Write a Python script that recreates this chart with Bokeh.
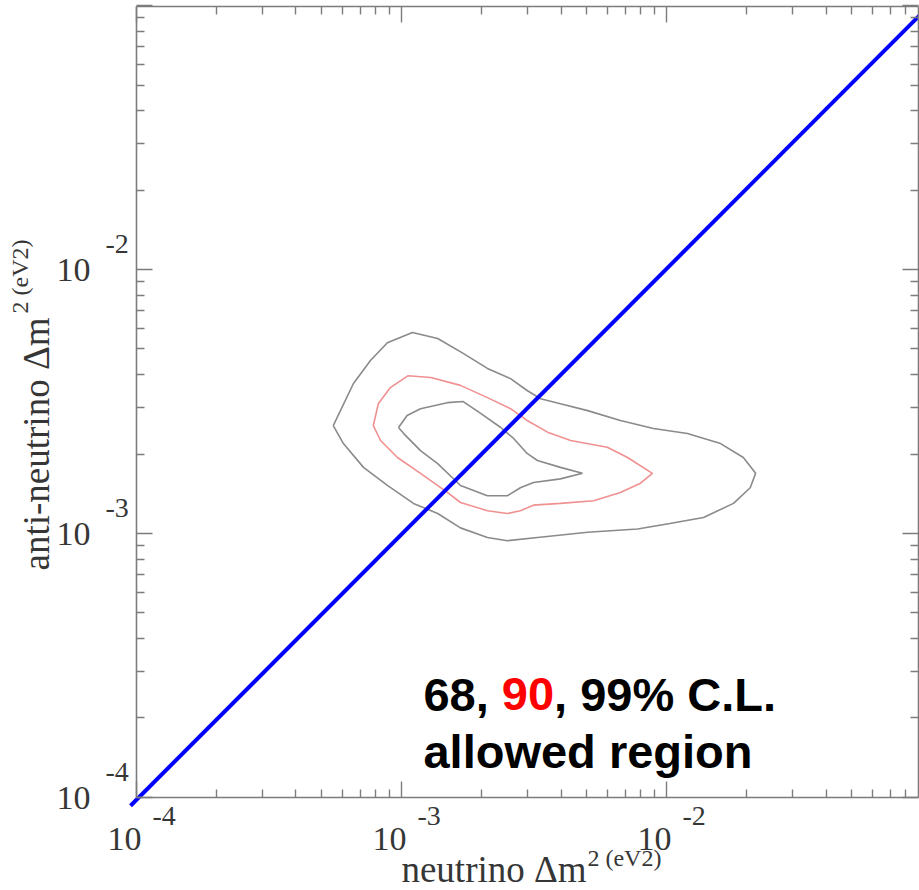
from bokeh.plotting import figure
from bokeh.models import Range1d, LogAxis, FixedTicker, Label
from bokeh.embed import file_html
from bokeh.resources import INLINE

# ---- data ----
# 99% C.L. contour (outer, grey)
c99_nu = [5.53e-4, 6.59e-4, 7.64e-4, 8.85e-4, 1.10e-3, 1.37e-3, 1.71e-3, 2.11e-3, 2.58e-3,
          2.98e-3, 3.35e-3, 3.98e-3, 5.04e-3, 6.70e-3, 8.93e-3, 1.20e-2, 1.60e-2, 1.95e-2,
          2.17e-2, 2.07e-2, 1.79e-2, 1.38e-2, 1.03e-2, 7.78e-3, 5.04e-3, 3.26e-3, 2.51e-3,
          2.11e-3, 1.67e-3, 1.37e-3, 1.11e-3, 8.85e-4, 7.19e-4, 6.04e-4, 5.53e-4]
c99_anu = [2.56e-3, 3.70e-3, 4.52e-3, 5.28e-3, 5.77e-3, 5.48e-3, 4.81e-3, 4.22e-3, 3.86e-3,
           3.48e-3, 3.24e-3, 3.10e-3, 2.92e-3, 2.68e-3, 2.50e-3, 2.39e-3, 2.19e-3, 1.94e-3,
           1.69e-3, 1.49e-3, 1.30e-3, 1.15e-3, 1.09e-3, 1.04e-3, 1.01e-3, 9.66e-4, 9.39e-4,
           9.66e-4, 1.05e-3, 1.19e-3, 1.30e-3, 1.52e-3, 1.78e-3, 2.19e-3, 2.56e-3]
# 90% C.L. contour (middle, red)
c90_nu = [7.83e-4, 8.18e-4, 9.08e-4, 1.06e-3, 1.29e-3, 1.67e-3, 2.11e-3, 2.58e-3, 2.98e-3,
          3.56e-3, 4.35e-3, 5.98e-3, 7.13e-3, 8.85e-3, 7.98e-3, 6.70e-3, 5.31e-3, 3.98e-3,
          3.15e-3, 2.81e-3, 2.51e-3, 2.11e-3, 1.67e-3, 1.49e-3, 1.18e-3, 9.66e-4, 8.34e-4, 7.83e-4]
c90_anu = [2.56e-3, 3.10e-3, 3.57e-3, 3.96e-3, 3.90e-3, 3.64e-3, 3.27e-3, 2.97e-3, 2.68e-3,
           2.42e-3, 2.25e-3, 2.12e-3, 1.94e-3, 1.69e-3, 1.55e-3, 1.43e-3, 1.33e-3, 1.30e-3,
           1.28e-3, 1.22e-3, 1.19e-3, 1.22e-3, 1.31e-3, 1.43e-3, 1.69e-3, 1.94e-3, 2.25e-3, 2.56e-3]
# 68% C.L. contour (inner, grey)
c68_nu = [9.75e-4, 1.05e-3, 1.18e-3, 1.49e-3, 1.71e-3, 1.99e-3, 2.37e-3, 2.65e-3, 2.98e-3,
          3.26e-3, 3.98e-3, 4.82e-3, 3.98e-3, 3.15e-3, 2.81e-3, 2.51e-3, 2.11e-3, 1.67e-3,
          1.37e-3, 1.18e-3, 1.02e-3, 9.75e-4]
c68_anu = [2.52e-3, 2.80e-3, 2.97e-3, 3.13e-3, 3.16e-3, 2.85e-3, 2.52e-3, 2.29e-3, 2.01e-3,
           1.89e-3, 1.78e-3, 1.69e-3, 1.61e-3, 1.56e-3, 1.49e-3, 1.39e-3, 1.39e-3, 1.52e-3,
           1.84e-3, 2.06e-3, 2.39e-3, 2.52e-3]
# diagonal (neutrino = anti-neutrino)
diag_nu = [9.5e-5, 9.0e-2]
diag_anu = [9.3e-5, 9.16e-2]

# axis box limits and ticks / labels
x_lo, x_hi = 1e-4, 0.0893
y_lo, y_hi = 1e-4, 0.0991
major_ticks = [1e-4, 1e-3, 1e-2, 1e-1]
labelled_ticks = [1e-4, 1e-3, 1e-2]
tick_exponents = ["-4", "-3", "-2"]
minor_ticks = [m * d for d in [1e-4, 1e-3, 1e-2] for m in range(2, 10)]

x_title = "neutrino \u0394m"
y_title = "anti-neutrino \u0394m"
title_sup = "2 (eV2)"
note_parts = ["68, ", "90", ", 99% C.L."]
note_colors = ["black", "red", "black"]
note_line2 = "allowed region"

AX = "#7c7c7c"
TXT = "#363636"
SERIF = "Liberation Serif"
SANS = "Liberation Sans"
BL = 0.34  # baseline correction (em) for text_baseline="alphabetic"

# the frame spans the whole canvas so that labels outside the axis box are not clipped
p = figure(width=919, height=890, x_axis_type="log", y_axis_type="log",
           x_axis_location=None, y_axis_location=None,
           x_range=Range1d(3.07e-5, 0.0901), y_range=Range1d(4.44e-5, 0.1045),
           output_backend="svg", toolbar_location=None,
           min_border_left=0, min_border_right=0, min_border_top=0, min_border_bottom=0)
p.outline_line_color = None
p.grid.visible = False
p.background_fill_color = "white"
p.border_fill_color = "white"

p.add_layout(LogAxis(fixed_location=y_lo, bounds=(x_lo, x_hi)), "below")
p.add_layout(LogAxis(fixed_location=y_hi, bounds=(x_lo, x_hi)), "above")
p.add_layout(LogAxis(fixed_location=x_lo, bounds=(y_lo, y_hi)), "left")
p.add_layout(LogAxis(fixed_location=x_hi, bounds=(y_lo, y_hi)), "right")
for ax in p.axis:
    ax.ticker = FixedTicker(ticks=major_ticks, minor_ticks=minor_ticks)
    ax.major_label_text_font_size = "1px"
    ax.major_label_text_alpha = 0
    ax.major_label_standoff = 0
    ax.axis_line_color = AX
    ax.axis_line_width = 1.6
    ax.major_tick_line_color = AX
    ax.minor_tick_line_color = AX
    ax.major_tick_line_width = 1.4
    ax.minor_tick_line_width = 1.4
    ax.major_tick_in = 16
    ax.major_tick_out = 0
    ax.minor_tick_in = 8
    ax.minor_tick_out = 0

# contours
p.line(c99_nu, c99_anu, line_color="#8a8a8a", line_width=1.6)
p.line(c90_nu, c90_anu, line_color="#f09090", line_width=1.6)
p.line(c68_nu, c68_anu, line_color="#8a8a8a", line_width=1.6)
# diagonal
p.line(diag_nu, diag_anu, line_color="#0000ff", line_width=4)


def lab(x, y, dx, dy, text, size, font=SERIF, color=TXT, style="normal", angle=0):
    if angle:
        dx -= BL * size
    else:
        dy += BL * size
    p.add_layout(Label(x=x, y=y, x_offset=dx, y_offset=dy, text=text, text_align="left",
                       text_baseline="alphabetic", angle=angle, angle_units="deg",
                       text_font=font, text_font_size=f"{size}px", text_font_style=style,
                       text_color=color))


# y tick labels
for v, e in zip(labelled_ticks, tick_exponents):
    lab(x_lo, v, -80, -12, "10", 34)
    lab(x_lo, v, -31, 16, e, 28)
# x tick labels
for v, e in zip(labelled_ticks, tick_exponents):
    lab(v, y_lo, -29, -53, "10", 34)
    lab(v, y_lo, 16, -28, e, 28)

# axis titles
lab(1e-3, y_lo, 0, -85, x_title, 37)
lab(1e-3, y_lo, 186, -69, title_sup, 24)
lab(x_lo, 1e-3, -87, -37, y_title, 37, angle=90)
lab(x_lo, 1e-3, -108, 220, title_sup, 24, angle=90)

# annotation
offs = [22, 22 + 1.668 * 47, 22 + 1.668 * 47 + 1.112 * 47]
for t, c, o in zip(note_parts, note_colors, offs):
    lab(1e-3, y_lo, o, 87, t, 47, font=SANS, color=c, style="bold")
lab(1e-3, y_lo, 22, 30, note_line2, 47, font=SANS, color="black", style="bold")

open("out.html", "w").write(file_html(p, INLINE))
